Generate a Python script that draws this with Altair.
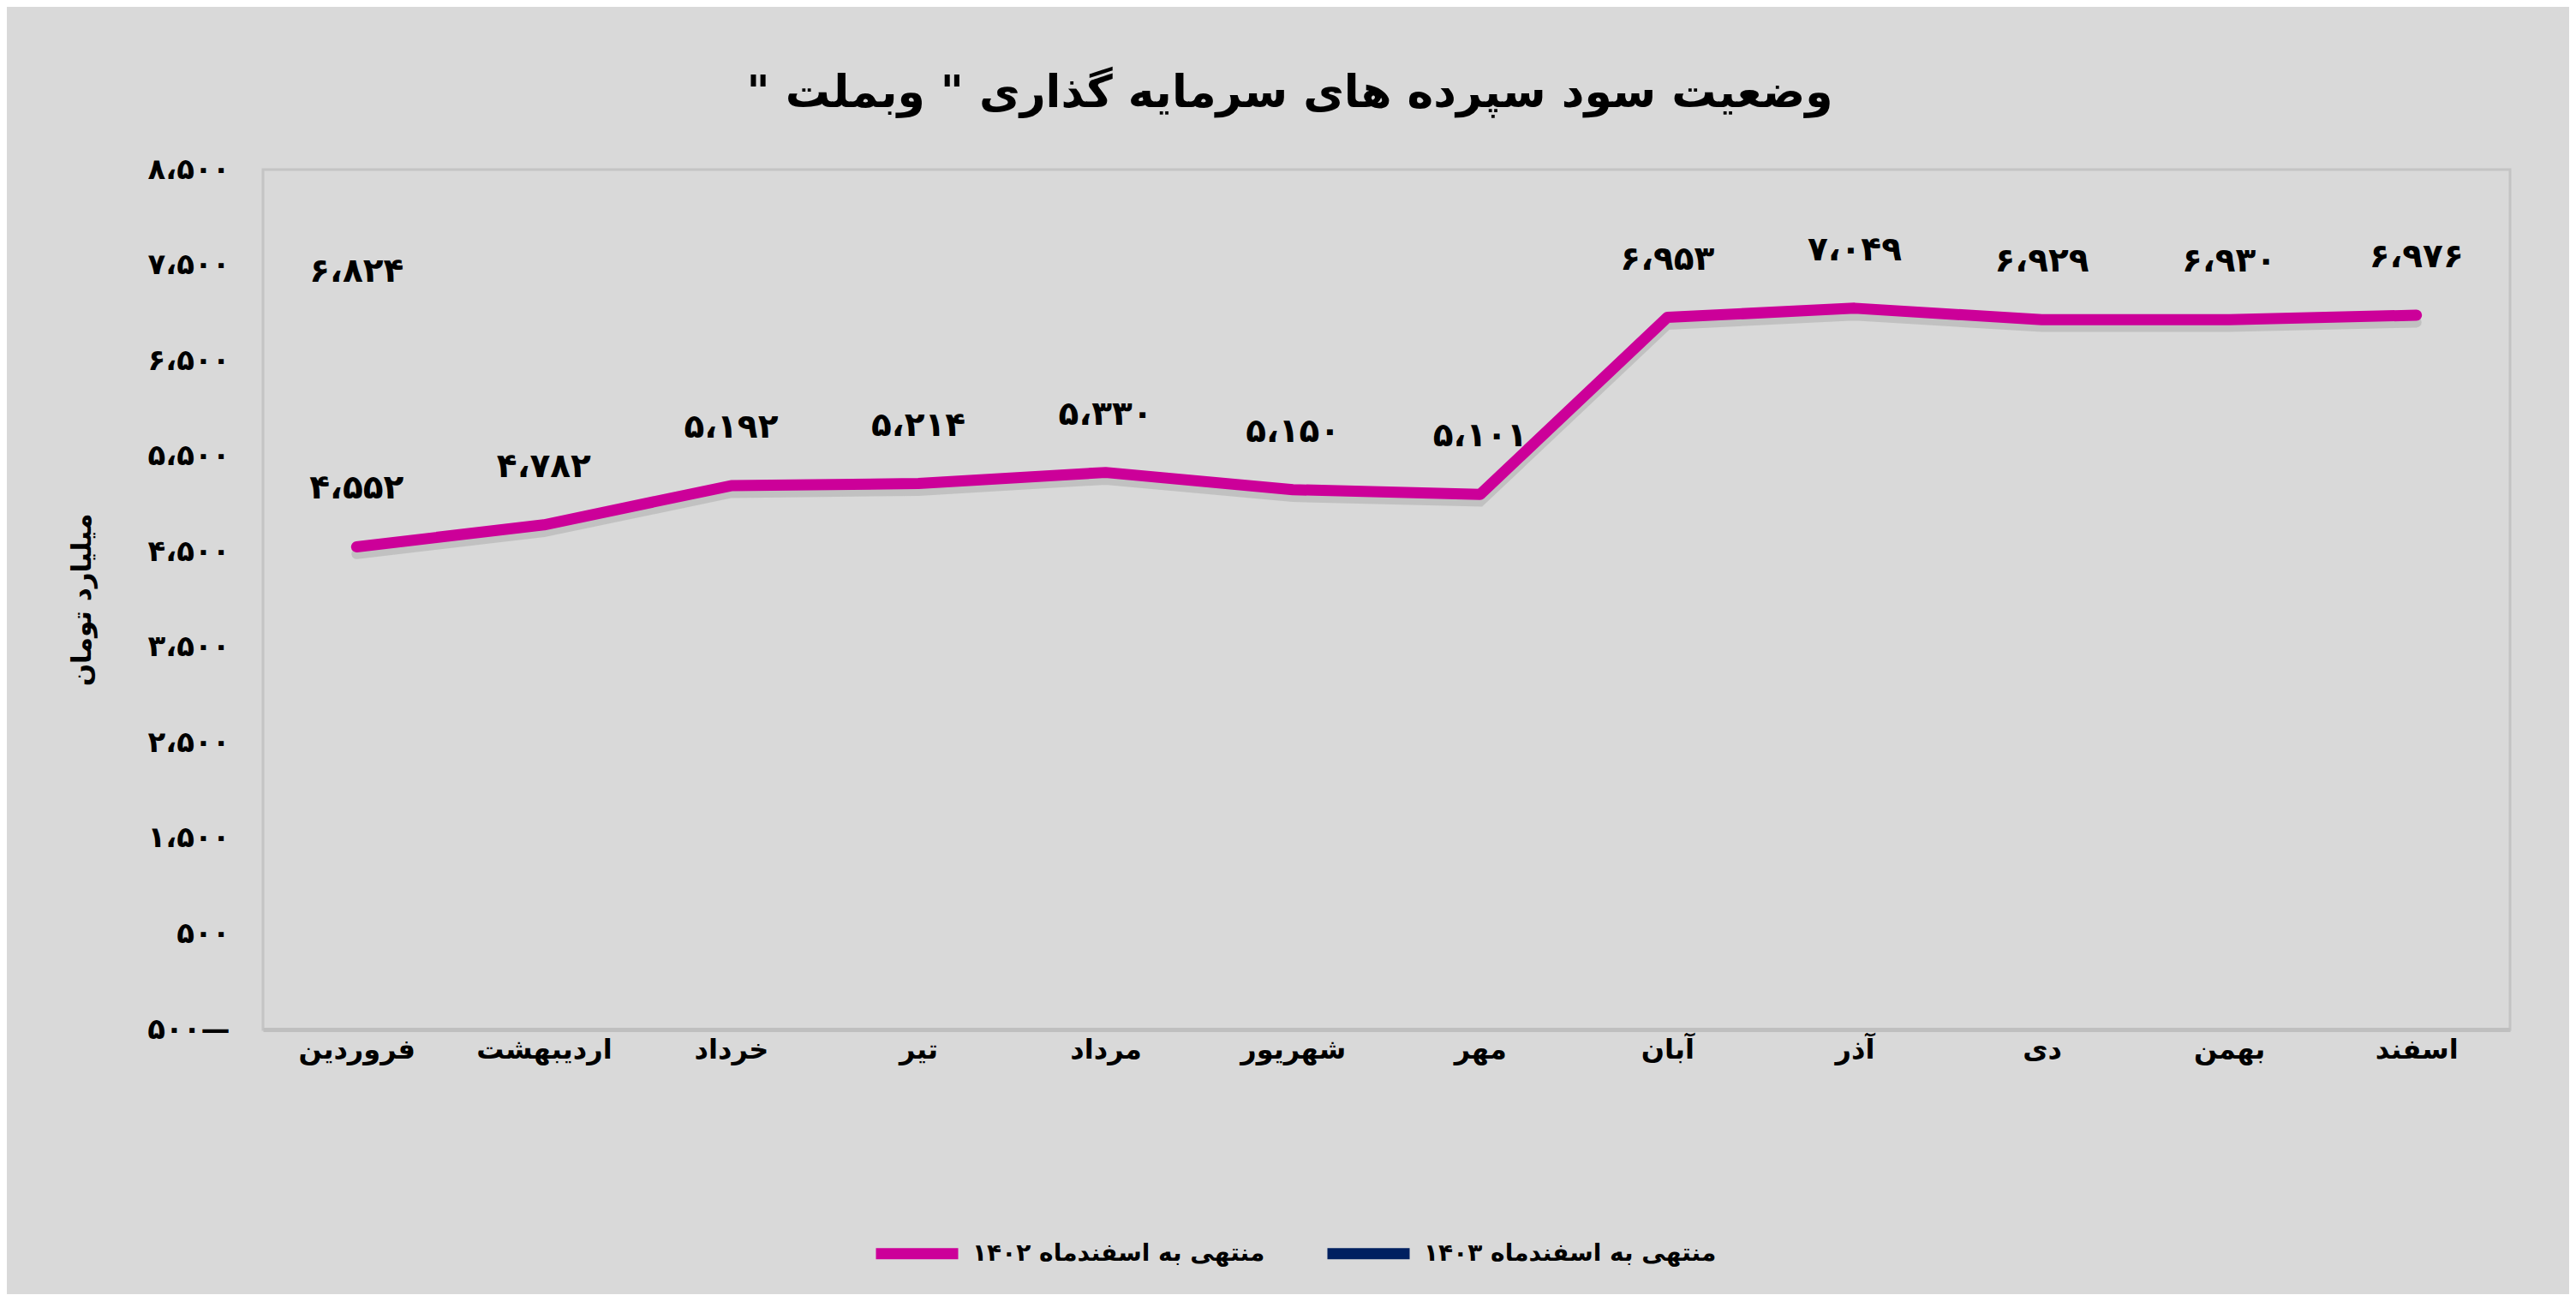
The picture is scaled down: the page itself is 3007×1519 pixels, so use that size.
import altair as alt
import pandas as pd

months = ["فروردین", "اردیبهشت", "خرداد", "تیر", "مرداد", "شهریور",
          "مهر", "آبان", "آذر", "دی", "بهمن", "اسفند"]
values_1402 = [4552, 4782, 5192, 5214, 5330, 5150, 5101, 6953, 7049, 6929, 6930, 6976]
months_1403 = ["فروردین"]
values_1403 = [6824]
series_names = ["منتهی به اسفندماه ۱۴۰۲", "منتهی به اسفندماه ۱۴۰۳"]
y_ticks = [-500, 500, 1500, 2500, 3500, 4500, 5500, 6500, 7500, 8500]
y_tick_labels = ["۵۰۰—", "۵۰۰", "۱،۵۰۰", "۲،۵۰۰", "۳،۵۰۰", "۴،۵۰۰",
                 "۵،۵۰۰", "۶،۵۰۰", "۷،۵۰۰", "۸،۵۰۰"]
title_text = "\u200fوضعیت سود سپرده های سرمایه گذاری \" وبملت \"\u200f"
y_title = "میلیارد تومان"

FA = str.maketrans("0123456789", "۰۱۲۳۴۵۶۷۸۹")


def fa_num(v):
    return f"{v:,}".replace(",", "،").translate(FA)


rows = []
for m, v in zip(months, values_1402):
    rows.append({"month": m, "value": v, "series": series_names[0], "label": fa_num(v)})
for m, v in zip(months_1403, values_1403):
    rows.append({"month": m, "value": v, "series": series_names[1], "label": fa_num(v)})
df = pd.DataFrame(rows)

label_expr = " : ".join(
    [f"datum.value == {t} ? '{l}'" for t, l in zip(y_ticks, y_tick_labels)]
) + " : ''"

FONT = "DejaVu Sans"

x_enc = alt.X("month:N", sort=months,
              scale=alt.Scale(type="point", padding=0.5, domain=months),
              axis=alt.Axis(title=None, labelAngle=0, ticks=False, labelFontSize=32,
                            labelFontWeight="bold", labelFont=FONT, labelColor="#000000",
                            labelPadding=8, domainColor="#bfbfbf", domainWidth=5, grid=False))
y_enc = alt.Y("value:Q",
              scale=alt.Scale(domain=[-500, 8500], nice=False, zero=False),
              axis=alt.Axis(title=y_title, values=y_ticks, labelExpr=label_expr,
                            ticks=False, domain=False, grid=False,
                            labelFontSize=34, labelFontWeight="bold", labelFont=FONT,
                            labelColor="#000000", labelPadding=39,
                            titleFontSize=31, titleFontWeight="bold", titleFont=FONT,
                            titleColor="#000000", titleAngle=270, titleX=-211, titleY=502,
                            titleAlign="center", titleBaseline="middle"))

color_enc = alt.Color("series:N",
                      scale=alt.Scale(domain=series_names, range=["#cc0099", "#002060"]),
                      legend=alt.Legend(title=None, orient="none", direction="horizontal",
                                        legendX=709, legendY=1211,
                                        symbolType="stroke", symbolSize=9216,
                                        symbolStrokeWidth=13, labelFontSize=28,
                                        labelFontWeight="bold", labelFont=FONT,
                                        labelColor="#000000", labelLimit=0,
                                        labelOffset=10, columnPadding=46))

base = alt.Chart(df)

shadow = base.transform_filter(f"datum.series == '{series_names[0]}'").transform_calculate(
    shadow="datum.value - 75").mark_line(
    strokeWidth=12, color="#7a7a7a", opacity=0.25, strokeCap="round"
).encode(x=x_enc, y="shadow:Q", detail="series:N")

line = base.transform_filter(f"datum.series == '{series_names[0]}'").mark_line(
    strokeWidth=13, strokeCap="round", strokeJoin="round").encode(
    x=x_enc, y=y_enc, color=color_enc
)

text = base.mark_text(dy=-68, fontSize=39, fontWeight="bold", font=FONT,
                      color="#000000").encode(x=x_enc, y=y_enc, text="label:N")

chart = alt.layer(shadow, line, text).properties(
    width=2623, height=1004,
    title=alt.TitleParams(title_text, fontSize=52, fontWeight="bold", font=FONT,
                          color="#000000", anchor="middle", dx=-113, offset=45),
    autosize=alt.AutoSizeParams(type="none"),
    padding={"left": 299, "top": 190, "right": 69, "bottom": 309},
    background="#d9d9d9",
).configure_view(stroke="#c4c4c4", strokeWidth=3)

chart.save("out.html", embed_options={"renderer": "svg", "actions": False})
